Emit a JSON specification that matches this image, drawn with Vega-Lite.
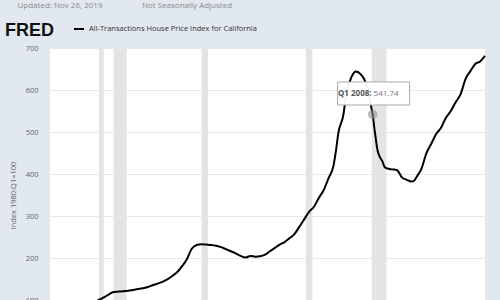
{
  "$schema": "https://vega.github.io/schema/vega-lite/v6.json",
  "autosize": "none",
  "padding": {"left": 50, "top": 48, "right": 15, "bottom": 0},
  "width": 435,
  "height": 294,
  "background": "#e1e8ef",
  "config": {
    "view": {"fill": "#ffffff", "stroke": null},
    "font": "Open Sans"
  },
  "title": {
    "text": "\u200d\u00a0\u00a0\u00a0\u00a0\u00a0\u00a0Updated: Nov 26, 2019\u00a0\u00a0\u00a0\u00a0\u00a0\u00a0\u00a0\u00a0\u00a0\u00a0\u00a0\u00a0\u00a0\u00a0\u00a0\u00a0\u00a0\u00a0\u00a0Not Seasonally Adjusted",
    "subtitle": "FRED",
    "anchor": "start",
    "frame": "group",
    "dx": -45,
    "dy": 27,
    "offset": 10,
    "font": "Open Sans",
    "fontSize": 8,
    "fontWeight": "normal",
    "color": "#8a8a8a",
    "subtitleFont": "Liberation Sans",
    "subtitleFontSize": 18,
    "subtitleFontWeight": "bold",
    "subtitleColor": "#111111",
    "subtitlePadding": 12
  },
  "datasets": {
    "hpi": [
      {"date": "1975-01-01", "value": 41, "series": "All-Transactions House Price Index for California"},
      {"date": "1976-01-01", "value": 47, "series": "All-Transactions House Price Index for California"},
      {"date": "1977-01-01", "value": 58, "series": "All-Transactions House Price Index for California"},
      {"date": "1978-01-01", "value": 72, "series": "All-Transactions House Price Index for California"},
      {"date": "1979-01-01", "value": 85, "series": "All-Transactions House Price Index for California"},
      {"date": "1979-07-01", "value": 94, "series": "All-Transactions House Price Index for California"},
      {"date": "1980-01-01", "value": 100, "series": "All-Transactions House Price Index for California"},
      {"date": "1980-07-01", "value": 106, "series": "All-Transactions House Price Index for California"},
      {"date": "1981-01-01", "value": 113, "series": "All-Transactions House Price Index for California"},
      {"date": "1981-07-01", "value": 119, "series": "All-Transactions House Price Index for California"},
      {"date": "1982-01-01", "value": 120, "series": "All-Transactions House Price Index for California"},
      {"date": "1982-07-01", "value": 121, "series": "All-Transactions House Price Index for California"},
      {"date": "1983-01-01", "value": 122, "series": "All-Transactions House Price Index for California"},
      {"date": "1983-07-01", "value": 124, "series": "All-Transactions House Price Index for California"},
      {"date": "1984-01-01", "value": 126, "series": "All-Transactions House Price Index for California"},
      {"date": "1984-07-01", "value": 128, "series": "All-Transactions House Price Index for California"},
      {"date": "1985-01-01", "value": 131, "series": "All-Transactions House Price Index for California"},
      {"date": "1985-07-01", "value": 135, "series": "All-Transactions House Price Index for California"},
      {"date": "1986-01-01", "value": 139, "series": "All-Transactions House Price Index for California"},
      {"date": "1986-07-01", "value": 143, "series": "All-Transactions House Price Index for California"},
      {"date": "1987-01-01", "value": 149, "series": "All-Transactions House Price Index for California"},
      {"date": "1987-07-01", "value": 157, "series": "All-Transactions House Price Index for California"},
      {"date": "1988-01-01", "value": 166, "series": "All-Transactions House Price Index for California"},
      {"date": "1988-07-01", "value": 180, "series": "All-Transactions House Price Index for California"},
      {"date": "1989-01-01", "value": 197, "series": "All-Transactions House Price Index for California"},
      {"date": "1989-07-01", "value": 222, "series": "All-Transactions House Price Index for California"},
      {"date": "1990-01-01", "value": 231, "series": "All-Transactions House Price Index for California"},
      {"date": "1990-07-01", "value": 233, "series": "All-Transactions House Price Index for California"},
      {"date": "1991-01-01", "value": 232, "series": "All-Transactions House Price Index for California"},
      {"date": "1991-07-01", "value": 231, "series": "All-Transactions House Price Index for California"},
      {"date": "1992-01-01", "value": 229, "series": "All-Transactions House Price Index for California"},
      {"date": "1992-07-01", "value": 226, "series": "All-Transactions House Price Index for California"},
      {"date": "1993-01-01", "value": 221, "series": "All-Transactions House Price Index for California"},
      {"date": "1993-07-01", "value": 216, "series": "All-Transactions House Price Index for California"},
      {"date": "1994-01-01", "value": 211, "series": "All-Transactions House Price Index for California"},
      {"date": "1994-07-01", "value": 205, "series": "All-Transactions House Price Index for California"},
      {"date": "1995-01-01", "value": 201, "series": "All-Transactions House Price Index for California"},
      {"date": "1995-07-01", "value": 205, "series": "All-Transactions House Price Index for California"},
      {"date": "1996-01-01", "value": 203, "series": "All-Transactions House Price Index for California"},
      {"date": "1996-07-01", "value": 204, "series": "All-Transactions House Price Index for California"},
      {"date": "1997-01-01", "value": 208, "series": "All-Transactions House Price Index for California"},
      {"date": "1997-07-01", "value": 216, "series": "All-Transactions House Price Index for California"},
      {"date": "1998-01-01", "value": 224, "series": "All-Transactions House Price Index for California"},
      {"date": "1998-07-01", "value": 232, "series": "All-Transactions House Price Index for California"},
      {"date": "1999-01-01", "value": 238, "series": "All-Transactions House Price Index for California"},
      {"date": "1999-07-01", "value": 247, "series": "All-Transactions House Price Index for California"},
      {"date": "2000-01-01", "value": 257, "series": "All-Transactions House Price Index for California"},
      {"date": "2000-07-01", "value": 274, "series": "All-Transactions House Price Index for California"},
      {"date": "2001-01-01", "value": 292, "series": "All-Transactions House Price Index for California"},
      {"date": "2001-07-01", "value": 310, "series": "All-Transactions House Price Index for California"},
      {"date": "2002-01-01", "value": 322, "series": "All-Transactions House Price Index for California"},
      {"date": "2002-07-01", "value": 343, "series": "All-Transactions House Price Index for California"},
      {"date": "2003-01-01", "value": 362, "series": "All-Transactions House Price Index for California"},
      {"date": "2003-07-01", "value": 390, "series": "All-Transactions House Price Index for California"},
      {"date": "2004-01-01", "value": 420, "series": "All-Transactions House Price Index for California"},
      {"date": "2004-04-01", "value": 455, "series": "All-Transactions House Price Index for California"},
      {"date": "2004-07-01", "value": 498, "series": "All-Transactions House Price Index for California"},
      {"date": "2005-01-01", "value": 540, "series": "All-Transactions House Price Index for California"},
      {"date": "2005-04-01", "value": 580, "series": "All-Transactions House Price Index for California"},
      {"date": "2005-07-01", "value": 608, "series": "All-Transactions House Price Index for California"},
      {"date": "2005-10-01", "value": 626, "series": "All-Transactions House Price Index for California"},
      {"date": "2006-01-01", "value": 638, "series": "All-Transactions House Price Index for California"},
      {"date": "2006-04-01", "value": 644, "series": "All-Transactions House Price Index for California"},
      {"date": "2006-07-01", "value": 643, "series": "All-Transactions House Price Index for California"},
      {"date": "2006-10-01", "value": 638, "series": "All-Transactions House Price Index for California"},
      {"date": "2007-01-01", "value": 631, "series": "All-Transactions House Price Index for California"},
      {"date": "2007-04-01", "value": 620, "series": "All-Transactions House Price Index for California"},
      {"date": "2007-07-01", "value": 600, "series": "All-Transactions House Price Index for California"},
      {"date": "2007-10-01", "value": 572, "series": "All-Transactions House Price Index for California"},
      {"date": "2008-01-01", "value": 541.74, "series": "All-Transactions House Price Index for California"},
      {"date": "2008-04-01", "value": 497, "series": "All-Transactions House Price Index for California"},
      {"date": "2008-07-01", "value": 457, "series": "All-Transactions House Price Index for California"},
      {"date": "2008-10-01", "value": 440, "series": "All-Transactions House Price Index for California"},
      {"date": "2009-01-01", "value": 430, "series": "All-Transactions House Price Index for California"},
      {"date": "2009-04-01", "value": 416, "series": "All-Transactions House Price Index for California"},
      {"date": "2009-07-01", "value": 413, "series": "All-Transactions House Price Index for California"},
      {"date": "2010-01-01", "value": 411, "series": "All-Transactions House Price Index for California"},
      {"date": "2010-07-01", "value": 409, "series": "All-Transactions House Price Index for California"},
      {"date": "2011-01-01", "value": 392, "series": "All-Transactions House Price Index for California"},
      {"date": "2011-07-01", "value": 386, "series": "All-Transactions House Price Index for California"},
      {"date": "2012-01-01", "value": 382, "series": "All-Transactions House Price Index for California"},
      {"date": "2012-04-01", "value": 384, "series": "All-Transactions House Price Index for California"},
      {"date": "2012-07-01", "value": 393, "series": "All-Transactions House Price Index for California"},
      {"date": "2013-01-01", "value": 413, "series": "All-Transactions House Price Index for California"},
      {"date": "2013-07-01", "value": 449, "series": "All-Transactions House Price Index for California"},
      {"date": "2014-01-01", "value": 472, "series": "All-Transactions House Price Index for California"},
      {"date": "2014-07-01", "value": 495, "series": "All-Transactions House Price Index for California"},
      {"date": "2015-01-01", "value": 510, "series": "All-Transactions House Price Index for California"},
      {"date": "2015-07-01", "value": 534, "series": "All-Transactions House Price Index for California"},
      {"date": "2016-01-01", "value": 550, "series": "All-Transactions House Price Index for California"},
      {"date": "2016-07-01", "value": 571, "series": "All-Transactions House Price Index for California"},
      {"date": "2017-01-01", "value": 590, "series": "All-Transactions House Price Index for California"},
      {"date": "2017-07-01", "value": 626, "series": "All-Transactions House Price Index for California"},
      {"date": "2018-01-01", "value": 645, "series": "All-Transactions House Price Index for California"},
      {"date": "2018-07-01", "value": 662, "series": "All-Transactions House Price Index for California"},
      {"date": "2019-01-01", "value": 668, "series": "All-Transactions House Price Index for California"},
      {"date": "2019-07-01", "value": 681, "series": "All-Transactions House Price Index for California"}
    ],
    "recessions": [
      {"start": "1980-01-01", "end": "1980-07-01"},
      {"start": "1981-07-01", "end": "1982-11-01"},
      {"start": "1990-07-01", "end": "1991-03-01"},
      {"start": "2001-03-01", "end": "2001-11-01"},
      {"start": "2007-12-01", "end": "2009-06-01"}
    ],
    "highlight": [
      {"date": "2008-01-01", "value": 541.74, "period": "Q1 2008:", "reading": "541.74"}
    ]
  },
  "layer": [
    {
      "data": {"name": "recessions"},
      "mark": {"type": "rect", "color": "#e4e4e4"},
      "encoding": {
        "x": {"field": "start", "type": "temporal", "scale": {"domain": ["1975-01-01", "2019-07-01"]}, "axis": null},
        "x2": {"field": "end"}
      }
    },
    {
      "data": {"name": "hpi"},
      "mark": {"type": "line", "strokeWidth": 2, "interpolate": "monotone"},
      "encoding": {
        "x": {"field": "date", "type": "temporal", "scale": {"domain": ["1975-01-01", "2019-07-01"]}, "axis": null},
        "y": {
          "field": "value", "type": "quantitative",
          "scale": {"domain": [0, 700], "nice": false},
          "axis": {
            "title": "Index 1980:Q1=100",
            "values": [0, 100, 200, 300, 400, 500, 600, 700],
            "grid": true, "gridColor": "#e9e9e9", "gridWidth": 1,
            "ticks": false, "domain": false,
            "labelPadding": 12, "labelColor": "#666666", "labelFontSize": 7.5, "labelFont": "Open Sans",
            "titleFont": "Open Sans", "titleFontSize": 7.5, "titleFontWeight": "normal", "titleColor": "#666666", "titlePadding": 8
          }
        },
        "color": {
          "field": "series", "type": "nominal",
          "scale": {"range": ["#000000"]},
          "legend": {
            "orient": "none", "legendX": 23, "legendY": -25, "title": null,
            "symbolType": "stroke", "symbolStrokeWidth": 2, "symbolSize": 100,
            "labelFont": "Open Sans", "labelFontSize": 7.5, "labelColor": "#333333", "labelOffset": 4, "labelLimit": 400
          }
        }
      }
    },
    {
      "data": {"name": "highlight"},
      "mark": {"type": "point", "filled": true, "color": "#8f8f8f", "opacity": 0.6, "size": 90},
      "encoding": {
        "x": {"field": "date", "type": "temporal"},
        "y": {"field": "value", "type": "quantitative"}
      }
    },
    {
      "data": {"name": "highlight"},
      "mark": {"type": "point", "shape": "M -1 -0.32 L 1 -0.32 L 1 0.32 L -1 0.32 Z", "size": 5184, "filled": true, "fill": "#ffffff", "fillOpacity": 0.95, "stroke": "#aaaaaa", "strokeWidth": 1, "yOffset": -21, "xOffset": 1, "opacity": 1},
      "encoding": {
        "x": {"field": "date", "type": "temporal"},
        "y": {"field": "value", "type": "quantitative"}
      }
    },
    {
      "data": {"name": "highlight"},
      "mark": {"type": "text", "align": "right", "baseline": "middle", "dx": -1, "dy": -20, "fontSize": 8, "fontWeight": "bold", "color": "#555555", "font": "Open Sans"},
      "encoding": {
        "x": {"field": "date", "type": "temporal"},
        "y": {"field": "value", "type": "quantitative"},
        "text": {"field": "period"}
      }
    },
    {
      "data": {"name": "highlight"},
      "mark": {"type": "text", "align": "left", "baseline": "middle", "dx": 1, "dy": -20, "fontSize": 8, "color": "#777777", "font": "Open Sans"},
      "encoding": {
        "x": {"field": "date", "type": "temporal"},
        "y": {"field": "value", "type": "quantitative"},
        "text": {"field": "reading"}
      }
    }
  ]
}
